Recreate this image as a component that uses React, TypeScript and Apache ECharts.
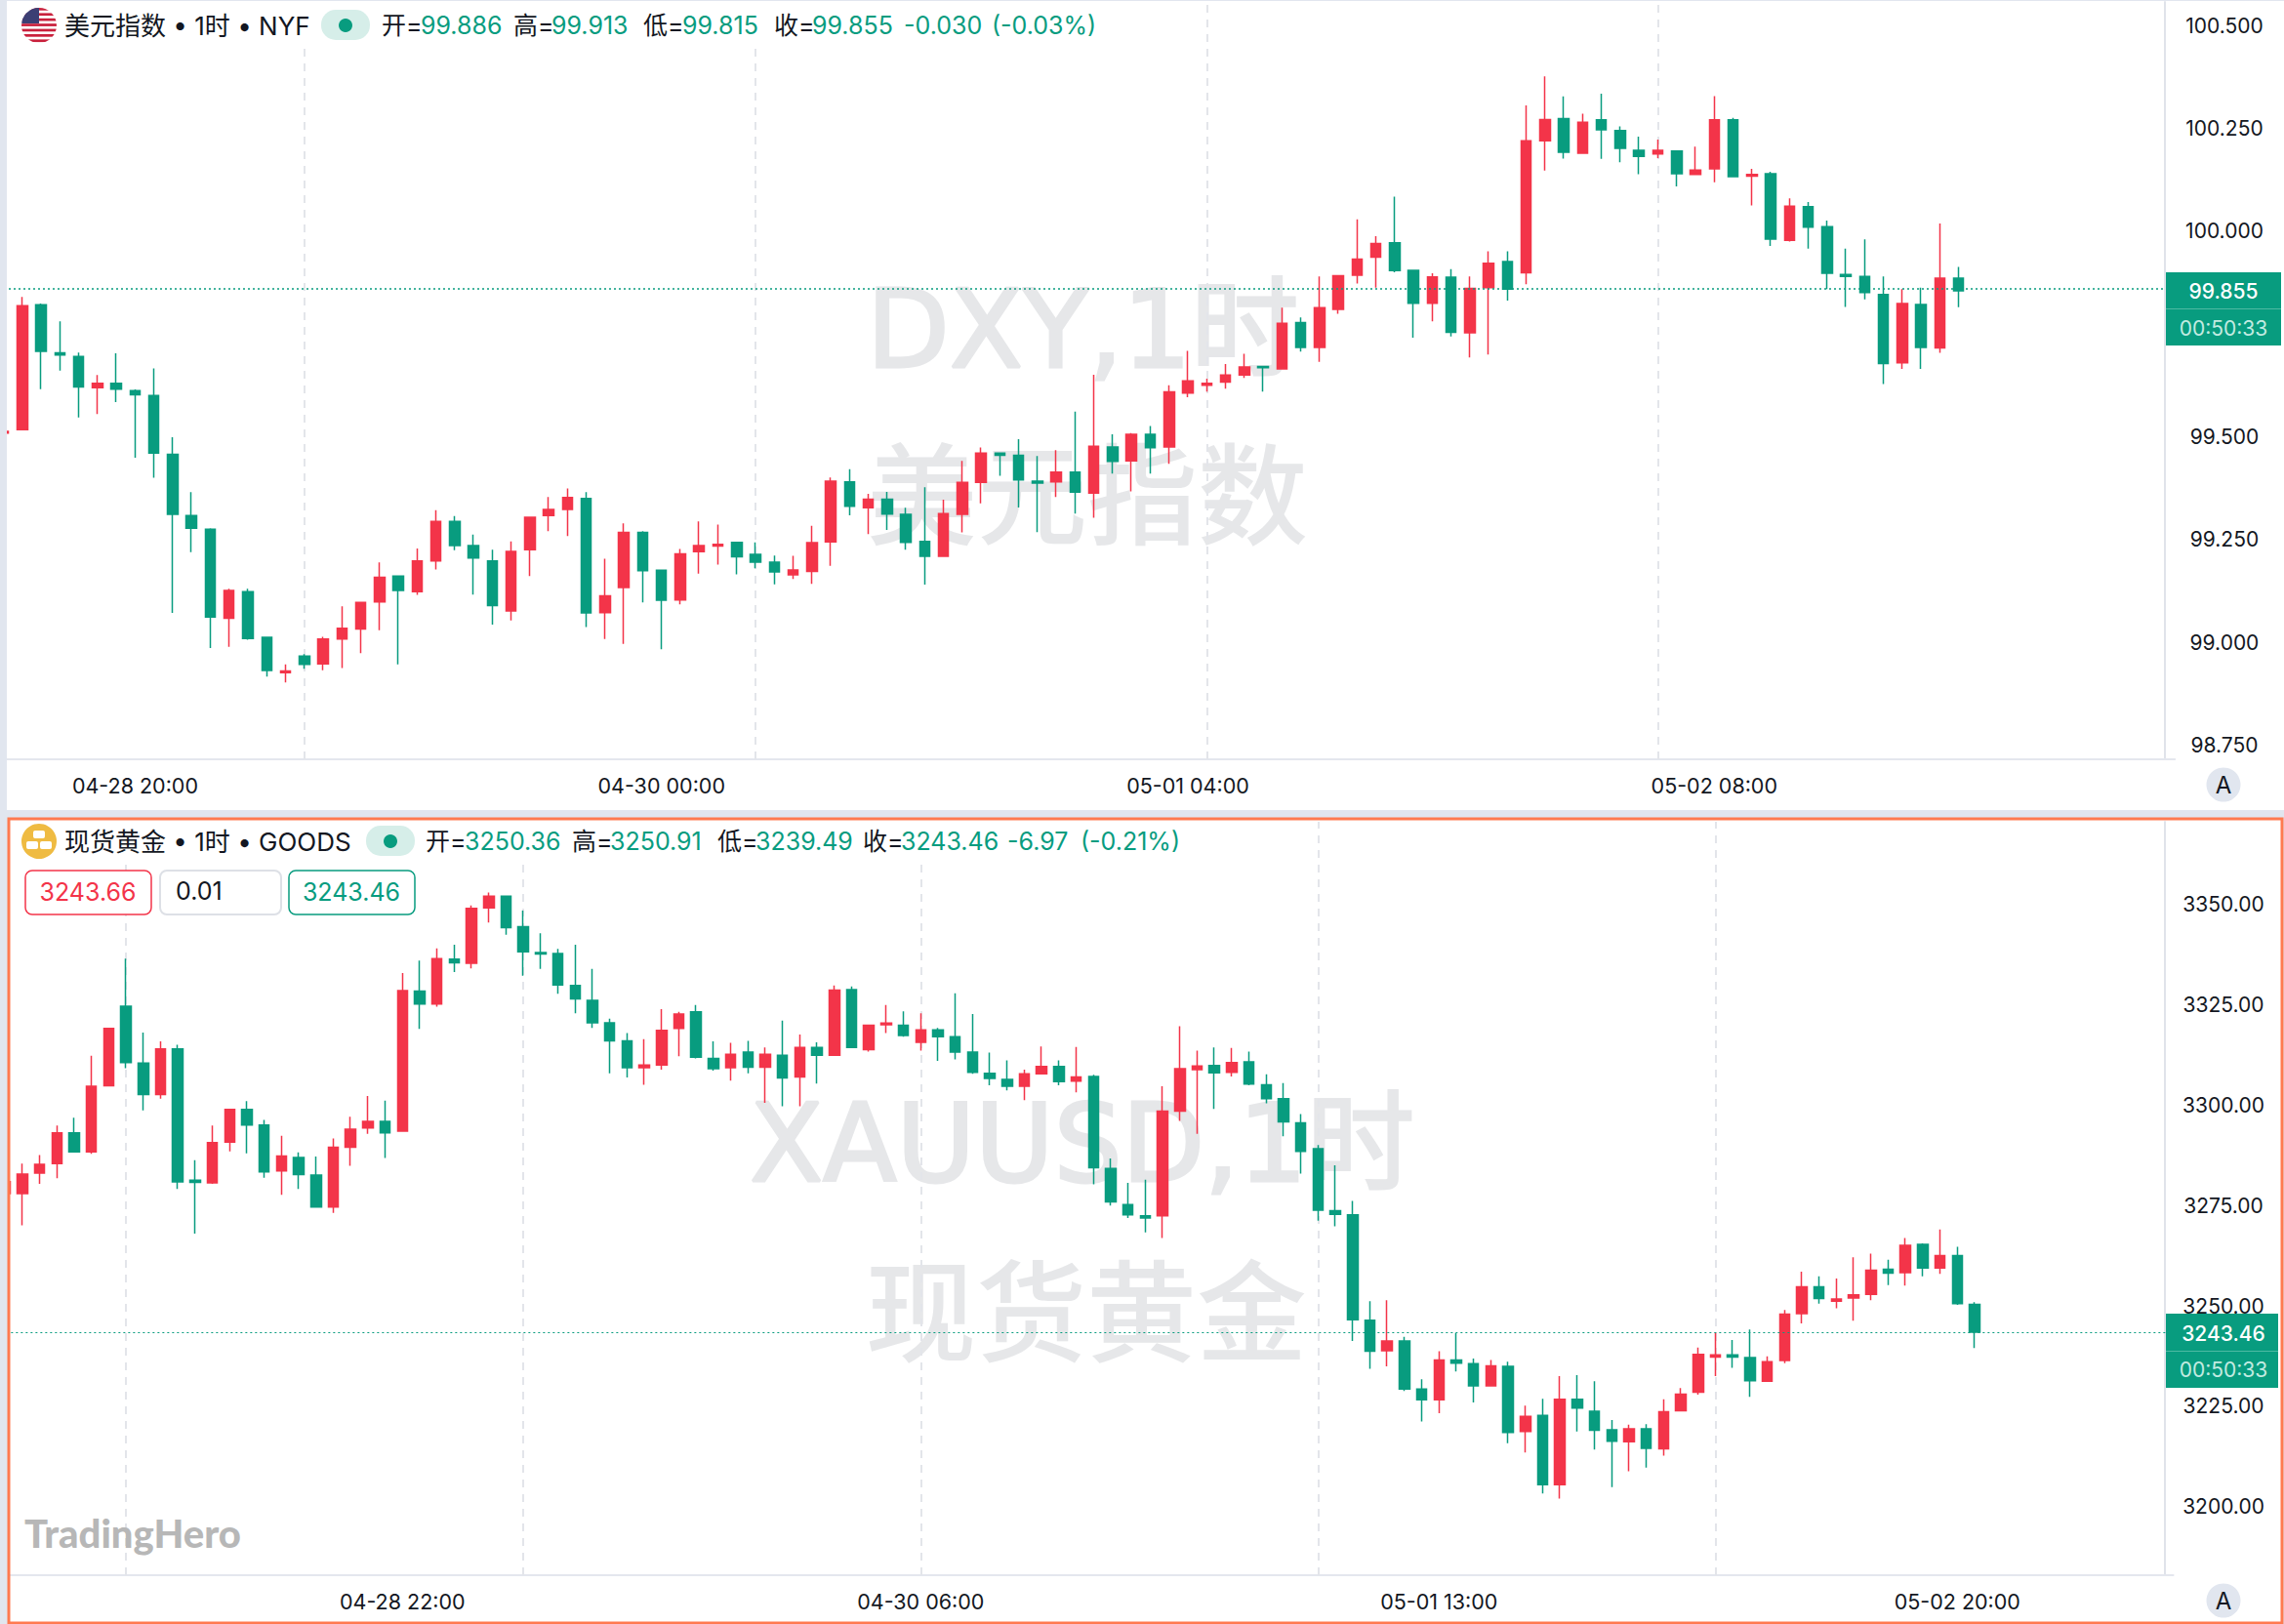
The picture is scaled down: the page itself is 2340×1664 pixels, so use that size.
import React, { useEffect, useRef } from "react";
import * as echarts from "echarts";

// [open, close, low, high] per hour
const dxyCandles: number[][] = [
  [99.509,99.513,99.509,99.513],
  [99.517,99.819,99.517,99.840],[99.821,99.708,99.616,99.824],[99.704,99.699,99.661,99.781],[99.695,99.621,99.547,99.705],
  [99.619,99.630,99.555,99.650],[99.630,99.616,99.584,99.703],[99.612,99.602,99.449,99.615],[99.600,99.460,99.400,99.666],
  [99.457,99.311,99.071,99.499],[99.308,99.277,99.219,99.365],[99.275,99.061,98.986,99.277],[99.058,99.126,98.989,99.130],
  [99.123,99.009,99.006,99.130],[99.012,98.931,98.916,99.012],[98.926,98.930,98.902,98.946],[98.966,98.946,98.935,98.971],
  [98.947,99.008,98.932,99.013],[99.008,99.034,98.937,99.087],[99.032,99.097,98.973,99.098],[99.098,99.158,99.029,99.194],
  [99.161,99.126,98.946,99.161],[99.123,99.198,99.115,99.228],[99.198,99.294,99.177,99.321],[99.294,99.235,99.224,99.307],
  [99.235,99.205,99.116,99.262],[99.198,99.089,99.043,99.225],[99.076,99.221,99.053,99.245],[99.225,99.304,99.161,99.304],
  [99.308,99.323,99.270,99.353],[99.323,99.352,99.258,99.374],[99.350,99.071,99.037,99.365],[99.072,99.113,99.008,99.203],
  [99.133,99.267,98.996,99.289],[99.267,99.174,99.097,99.270],[99.175,99.102,98.983,99.177],[99.103,99.215,99.092,99.227],
  [99.220,99.235,99.167,99.294],[99.234,99.238,99.189,99.286],[99.243,99.208,99.165,99.243],[99.214,99.195,99.180,99.243],
  [99.195,99.171,99.141,99.211],[99.164,99.176,99.154,99.210],[99.172,99.242,99.142,99.283],[99.244,99.392,99.186,99.401],
  [99.390,99.331,99.309,99.421],[99.327,99.348,99.263,99.361],[99.348,99.312,99.273,99.366],[99.311,99.243,99.225,99.327],
  [99.245,99.209,99.140,99.377],[99.209,99.313,99.209,99.347],[99.311,99.389,99.267,99.441],[99.389,99.460,99.338,99.474],
  [99.460,99.455,99.405,99.460],[99.455,99.395,99.328,99.494],[99.392,99.387,99.268,99.453],[99.390,99.414,99.353,99.467],
  [99.414,99.365,99.313,99.561],[99.363,99.477,99.303,99.651],[99.475,99.440,99.410,99.506],[99.441,99.506,99.367,99.509],
  [99.506,99.473,99.410,99.526],[99.475,99.609,99.434,99.625],[99.606,99.636,99.596,99.709],[99.625,99.630,99.610,99.641],
  [99.633,99.650,99.617,99.677],[99.650,99.670,99.643,99.702],[99.671,99.668,99.610,99.671],[99.665,99.776,99.665,99.814],
  [99.778,99.717,99.707,99.790],[99.717,99.814,99.682,99.890],[99.810,99.892,99.799,99.892],[99.893,99.932,99.873,100.029],
  [99.937,99.970,99.863,99.988],[99.972,99.904,99.900,100.084],[99.905,99.825,99.741,99.905],[99.825,99.889,99.781,99.898],
  [99.888,99.754,99.744,99.908],[99.753,99.861,99.693,99.890],[99.863,99.922,99.700,99.951],[99.926,99.859,99.831,99.951],
  [99.899,100.220,99.871,100.306],[100.220,100.272,100.148,100.377],[100.274,100.192,100.177,100.328],[100.190,100.265,100.190,100.286],
  [100.271,100.247,100.176,100.335],[100.245,100.202,100.168,100.255],[100.197,100.182,100.139,100.230],[100.188,100.197,100.178,100.223],
  [100.195,100.140,100.109,100.195],[100.138,100.149,100.138,100.206],[100.152,100.271,100.119,100.329],[100.271,100.133,100.133,100.276],
  [100.134,100.138,100.063,100.152],[100.140,99.981,99.964,100.145],[99.978,100.061,99.975,100.080],[100.060,100.010,99.958,100.071],
  [100.011,99.898,99.859,100.026],[99.895,99.890,99.816,99.958],[99.890,99.851,99.834,99.980],[99.846,99.678,99.628,99.890],
  [99.680,99.824,99.665,99.859],[99.822,99.717,99.665,99.863],[99.716,99.886,99.704,100.019],[99.886,99.855,99.815,99.913],
];

const goldCandles: number[][] = [
  [3278.00,3281.00,3277.00,3281.00],
  [3277.97,3282.86,3270.11,3285.44],[3283.12,3285.31,3280.41,3287.62],[3285.44,3293.16,3281.83,3294.96],[3293.16,3288.40,3288.40,3296.89],
  [3288.40,3304.75,3287.88,3312.34],[3304.88,3319.17,3304.88,3319.17],[3324.70,3310.67,3309.25,3336.55],[3310.54,3302.69,3298.70,3318.14],
  [3302.69,3314.02,3301.66,3315.95],[3314.02,3280.93,3279.13,3315.05],[3281.32,3280.80,3268.05,3286.34],[3280.67,3290.71,3280.41,3294.96],
  [3290.84,3298.95,3288.53,3298.95],[3298.95,3295.09,3288.01,3301.01],[3295.09,3283.38,3281.96,3296.38],[3283.63,3287.37,3277.71,3292.39],
  [3286.98,3282.73,3279.13,3288.27],[3282.60,3274.62,3274.62,3287.24],[3274.62,3289.56,3273.20,3291.74],[3289.56,3294.06,3284.92,3297.15],
  [3294.32,3295.99,3292.90,3302.30],[3295.99,3293.16,3286.85,3301.14],[3293.55,3328.57,3293.55,3332.94],[3328.44,3325.22,3319.04,3336.03],
  [3325.22,3336.55,3324.58,3339.12],[3336.42,3335.52,3333.20,3340.03],[3335.39,3349.04,3334.10,3349.81],[3349.17,3352.13,3345.56,3353.03],
  [3352.13,3344.27,3342.47,3352.13],[3344.53,3338.22,3332.30,3348.52],[3338.09,3337.71,3333.97,3342.86],[3337.84,3329.98,3327.79,3339.00],
  [3329.85,3326.51,3322.90,3340.03],[3326.12,3320.58,3319.30,3333.97],[3320.58,3316.08,3307.97,3321.61],[3316.08,3309.38,3306.94,3318.01],
  [3309.38,3310.03,3305.13,3316.46],[3310.03,3318.65,3308.87,3323.93],[3319.17,3322.77,3312.22,3323.29],[3323.29,3311.96,3311.70,3324.96],
  [3311.70,3309.13,3308.61,3315.95],[3309.38,3312.73,3306.16,3315.56],[3313.25,3309.51,3307.97,3316.08],[3309.51,3312.73,3300.63,3314.40],
  [3312.47,3306.81,3299.73,3321.10],[3307.07,3314.40,3299.73,3317.62],[3314.40,3312.47,3305.39,3315.69],[3312.47,3328.70,3312.47,3329.85],
  [3328.82,3314.40,3314.40,3329.60],[3313.89,3319.94,3313.37,3319.94],[3320.07,3320.46,3318.01,3324.96],[3319.94,3317.37,3317.11,3323.42],
  [3315.69,3318.78,3313.63,3322.90],[3318.78,3317.11,3311.06,3319.30],[3317.11,3313.25,3311.44,3327.92],[3313.25,3308.22,3307.84,3322.77],
  [3307.97,3306.68,3305.01,3313.12],[3306.42,3304.75,3303.72,3311.19],[3304.75,3307.84,3301.27,3308.87],[3307.84,3309.64,3307.84,3314.66],
  [3309.64,3305.91,3305.01,3311.19],[3306.04,3307.07,3303.20,3314.53],[3307.19,3284.41,3280.29,3307.58],[3284.28,3275.91,3275.01,3286.72],
  [3275.26,3272.69,3271.92,3280.67],[3272.43,3271.92,3268.31,3281.44],[3272.43,3298.57,3266.90,3304.75],[3298.57,3309.13,3296.12,3319.68],
  [3308.87,3309.77,3292.90,3313.63],[3309.90,3308.10,3299.08,3314.40],[3308.22,3310.67,3307.19,3314.28],[3310.80,3305.26,3305.01,3313.37],
  [3305.13,3301.66,3300.50,3307.71],[3301.66,3295.86,3292.26,3305.52],[3295.61,3288.53,3282.99,3297.80],[3289.17,3273.85,3271.27,3290.07],
  [3273.72,3272.82,3269.86,3285.05],[3272.69,3246.55,3241.27,3276.17],[3246.42,3238.70,3234.32,3251.19],[3238.83,3241.27,3234.97,3251.45],
  [3241.27,3229.30,3228.79,3242.30],[3229.30,3226.60,3221.19,3231.75],[3226.60,3236.51,3223.25,3238.70],[3236.51,3235.74,3233.68,3243.21],
  [3235.61,3230.07,3225.95,3236.90],[3230.07,3235.09,3230.07,3236.51],[3234.97,3218.49,3215.78,3236.12],[3218.74,3222.48,3213.46,3225.18],
  [3222.73,3205.48,3203.29,3226.85],[3205.48,3226.73,3202.01,3232.52],[3226.73,3224.54,3218.74,3232.78],[3223.76,3219.00,3214.24,3231.23],
  [3219.13,3216.30,3204.84,3221.58],[3216.17,3219.39,3208.83,3220.42],[3219.39,3214.49,3209.73,3220.55],[3214.37,3223.64,3212.69,3226.73],
  [3223.89,3228.01,3223.89,3229.56],[3228.53,3237.93,3227.88,3239.60],[3237.28,3237.80,3232.52,3243.46],[3237.80,3237.28,3234.58,3241.53],
  [3237.15,3231.36,3227.37,3244.11],[3231.23,3236.12,3231.23,3237.41],[3236.38,3247.97,3235.74,3249.00],[3248.10,3254.79,3245.65,3258.53],
  [3254.79,3251.83,3250.54,3257.37],[3251.19,3251.70,3249.39,3256.85],[3251.96,3252.73,3246.30,3262.13],[3252.86,3258.91,3251.45,3263.03],
  [3259.17,3258.14,3255.18,3261.49],[3258.27,3265.09,3255.05,3266.90],[3265.35,3259.43,3257.37,3265.61],[3259.43,3262.52,3258.01,3269.08],
  [3262.52,3250.54,3250.29,3264.71],[3250.36,3243.46,3239.49,3250.91],
];

const dxyPriceTicks = [98.75, 99, 99.25, 99.5, 100, 100.25, 100.5];
const goldPriceTicks = [3200, 3225, 3250, 3275, 3300, 3325, 3350];
const dxyTimeLabels: Record<number, string> = { 7: "04-28 20:00", 35: "04-30 00:00", 63: "05-01 04:00", 91: "05-02 08:00" };
const goldTimeLabels: Record<number, string> = { 23: "04-28 22:00", 53: "04-30 06:00", 83: "05-01 13:00", 113: "05-02 20:00" };
const dxyDayLines = [16, 40, 64, 88];
const goldDayLines = [7, 30, 53, 76, 99];
const dxyLast = 99.855;
const goldLast = 3243.46;
const DXY_SLOTS = 116;
const GOLD_SLOTS = 126;

const RED = "#f33449";
const GREEN = "#089c7f";
const INK = "#131722";
const WATERMARK = "#e6e7e9";
const FONT = "Inter, 'Noto Sans CJK SC', sans-serif";
const WIDE = "'DejaVu Sans', 'Noto Sans CJK SC', sans-serif";

const flag =
  "data:image/svg+xml;utf8," +
  encodeURIComponent(`<svg xmlns="http://www.w3.org/2000/svg" viewBox="0 0 36 36"><defs><clipPath id="c"><circle cx="18" cy="18" r="18"/></clipPath></defs><g clip-path="url(#c)"><rect width="36" height="36" fill="#fff"/>${[0, 1, 2, 3, 4, 5, 6]
    .map((i) => `<rect y="${i * 5.4}" width="36" height="2.7" fill="#c9203c"/>`)
    .join("")}<rect width="18" height="16" fill="#3c3f74"/></g></svg>`);

function txt(x: number, y: number, text: string, fill: string, fontSize = 25, extra: any = {}) {
  const { z = 6, ...rest } = extra;
  return {
    type: "text", x, y, z, silent: true,
    style: { text, fill, fontSize, fontFamily: FONT, verticalAlign: "middle", align: "left", ...rest },
  };
}
function rect(x: number, y: number, width: number, height: number, style: any, z = 6, r = 0) {
  return { type: "rect", z, silent: true, shape: { x, y, width, height, r }, style };
}

function header(y: number, title: string, pill: number, items: [number, string, boolean][]) {
  return [
    txt(66, y, title, INK, 26),
    rect(pill, y - 16, 50, 31, { fill: "#d6eee9" }, 6, 15),
    { type: "circle", z: 7, silent: true, shape: { cx: pill + 25, cy: y, r: 7 }, style: { fill: GREEN } },
    ...items.map(([x, s, value]) => txt(x, y, s, value ? GREEN : INK)),
  ];
}

function candleSeries(name: string, idx: number, rows: number[][], last: number, dash: number[], lineW: number) {
  return {
    name, type: "candlestick", xAxisIndex: idx, yAxisIndex: idx, z: 3, barWidth: 11,
    silent: true, data: rows,
    itemStyle: { color: RED, color0: GREEN, borderColor: RED, borderColor0: GREEN, borderWidth: 1.5 },
    markLine: {
      z: 3.5, silent: true, symbol: "none", label: { show: false }, animation: false,
      lineStyle: { color: GREEN, width: lineW, type: dash, opacity: 1 },
      data: [{ yAxis: last }],
    },
  };
}
function dayLines(idx: number, lines: number[]) {
  return {
    type: "line", xAxisIndex: idx, yAxisIndex: idx, z: 1, data: [], silent: true,
    markLine: {
      z: 1, silent: true, symbol: "none", label: { show: false }, animation: false,
      lineStyle: { color: "#e3e5ea", width: 2, type: [8, 7], opacity: 1 },
      data: lines.map((xAxis) => ({ xAxis })),
    },
  };
}
function xAxis(idx: number, slots: number, labels: Record<number, string>) {
  return {
    type: "category", gridIndex: idx, boundaryGap: true,
    data: Array.from({ length: slots }, (_, i) => String(i)),
    axisLine: { show: true, lineStyle: { color: "#e4e7ee", width: 2 } },
    axisTick: { show: false },
    splitLine: { show: false },
    axisLabel: {
      interval: (i: number) => labels[i] !== undefined,
      formatter: (_: string, i: number) => labels[i] ?? "",
      color: INK, fontSize: 21.5, fontFamily: FONT, margin: 16,
    },
  };
}
function yAxis(idx: number, min: number, max: number, ticks: number[], digits: number, offset: number, margin: number, pad: number) {
  return {
    type: "value", gridIndex: idx, position: "right", min, max, scale: true, offset,
    axisLine: { show: true, lineStyle: { color: "#e0e3ea", width: 2 } },
    axisTick: { show: false },
    splitLine: { show: false },
    axisLabel: {
      customValues: ticks, formatter: (v: number) => v.toFixed(digits),
      color: INK, fontSize: 21, fontFamily: FONT, align: "center", margin, padding: [pad, 0, 0, 0],
    },
  };
}

export default function App() {
  const ref = useRef<HTMLDivElement>(null);
  useEffect(() => {
    document.body.style.margin = "0";
    const chart = echarts.init(ref.current!, undefined, { renderer: "svg" });
    chart.setOption({
      animation: false,
      backgroundColor: "#e1e6ef",
      grid: [
        { left: -6, top: 2, width: 2234.16, height: 776, outerBoundsMode: "none" },
        { left: -3.65, top: 842, width: 2230.2, height: 772, outerBoundsMode: "none" },
      ],
      xAxis: [xAxis(0, DXY_SLOTS, dxyTimeLabels), xAxis(1, GOLD_SLOTS, goldTimeLabels)],
      yAxis: [
        yAxis(0, 98.715, 100.558, dxyPriceTicks, 3, -10.17, 61, 0),
        yAxis(1, 3182.9, 3370.65, goldPriceTicks, 2, -8.55, 60, 3),
      ],
      series: [
        dayLines(0, dxyDayLines),
        candleSeries("DXY", 0, dxyCandles, dxyLast, [2, 3], 1.5),
        dayLines(1, goldDayLines),
        candleSeries("XAUUSD", 1, goldCandles, goldLast, [2, 3], 1),
      ],
      graphic: {
        elements: [
          // panels
          rect(7, 1, 2333, 829, { fill: "#ffffff" }, -5),
          rect(9, 839, 2329, 824, { fill: "#ffffff" }, -5),
          // watermarks
          txt(888, 338, "DXY,1时", WATERMARK, 110, { z: 1, fontFamily: WIDE, stroke: WATERMARK, lineWidth: 3 }),
          txt(888, 508, "美元指数", WATERMARK, 113, { z: 1, fontWeight: 500 }),
          txt(768, 1172, "XAUUSD,1时", WATERMARK, 110, { z: 1, fontFamily: WIDE, stroke: WATERMARK, lineWidth: 3 }),
          txt(887, 1345, "现货黄金", WATERMARK, 113, { z: 1, fontWeight: 500 }),
          // header backgrounds
          rect(7, 2, 1125, 46, { fill: "#fff" }, 4),
          rect(9, 841, 1225, 43, { fill: "#fff" }, 4),
          // left gutter and frame
          rect(0, 0, 7, 832, { fill: "#e1e6ef" }, 100),
          rect(0, 830, 2340, 8, { fill: "#e1e6ef" }, 100),
          rect(0, 838, 8, 826, { fill: "#e1e6ef" }, 100),
          rect(9, 839, 2329, 824, { fill: "transparent", stroke: "#ff7a50", lineWidth: 3 }, 101),
          // icons
          { type: "image", z: 6, silent: true, style: { image: flag, x: 22, y: 8, width: 36, height: 36 } },
          { type: "circle", z: 6, silent: true, shape: { cx: 40, cy: 862, r: 18 }, style: { fill: "#efbb42" } },
          rect(34, 851, 12, 8, { fill: "#fff" }, 7, 2),
          rect(27, 862, 12, 8, { fill: "#fff" }, 7, 2),
          rect(41, 862, 12, 8, { fill: "#fff" }, 7, 2),
          // headers
          ...header(26, "美元指数 • 1时 • NYF", 329, [
            [391, "开=", false], [431, "99.886", true], [526, "高=", false], [565, "99.913", true],
            [659, "低=", false], [699, "99.815", true], [793, "收=", false], [832, "99.855", true],
            [926, "-0.030", true], [1016, "(-0.03%)", true],
          ]),
          ...header(862, "现货黄金 • 1时 • GOODS", 375, [
            [436, "开=", false], [476, "3250.36", true], [586, "高=", false], [625, "3250.91", true],
            [735, "低=", false], [774, "3239.49", true], [884, "收=", false], [923, "3243.46", true],
            [1032, "-6.97", true], [1107, "(-0.21%)", true],
          ]),
          // order boxes
          rect(26, 892, 129, 45, { fill: "#fff", stroke: RED, lineWidth: 1.5 }, 6, 7),
          rect(164, 892, 124, 45, { fill: "#fff", stroke: "#dde0e6", lineWidth: 2 }, 6, 7),
          rect(296, 892, 129, 45, { fill: "#fff", stroke: GREEN, lineWidth: 1.5 }, 6, 7),
          txt(90, 914, "3243.66", RED, 25, { align: "center", z: 7 }),
          txt(180, 913, "0.01", INK, 25, { z: 7 }),
          txt(360, 914, "3243.46", GREEN, 25, { align: "center", z: 7 }),
          // watermark logo
          txt(25, 1571, "TradingHero", "#b7b7b7", 40, { fontFamily: "Lato, sans-serif", fontWeight: 900 }),
          // price tags
          rect(2219, 279, 118, 75, { fill: GREEN }, 100),
          rect(2219, 316, 118, 1, { fill: "#4db9a2" }, 101),
          txt(2278, 298, "99.855", "#fff", 21, { align: "center", fontWeight: 500, z: 102 }),
          txt(2278, 336, "00:50:33", "#c2ebe1", 21, { align: "center", z: 102 }),
          rect(2219, 1346, 115, 76, { fill: GREEN }, 100),
          rect(2219, 1384, 115, 1, { fill: "#4db9a2" }, 101),
          txt(2278, 1366, "3243.46", "#fff", 21, { align: "center", fontWeight: 500, z: 102 }),
          txt(2278, 1403, "00:50:33", "#c2ebe1", 21, { align: "center", z: 102 }),
          // auto-scale buttons
          { type: "circle", z: 6, silent: true, shape: { cx: 2278, cy: 804, r: 17.5 }, style: { fill: "#e1e6ef" } },
          txt(2278, 804, "A", INK, 24, { align: "center", z: 7 }),
          { type: "circle", z: 6, silent: true, shape: { cx: 2278, cy: 1640, r: 17.5 }, style: { fill: "#e1e6ef" } },
          txt(2278, 1640, "A", INK, 24, { align: "center", z: 7 }),
        ],
      },
    });
    return () => chart.dispose();
  }, []);
  return <div ref={ref} style={{ position: "fixed", left: 0, top: 0, width: 2340, height: 1664 }} />;
}
